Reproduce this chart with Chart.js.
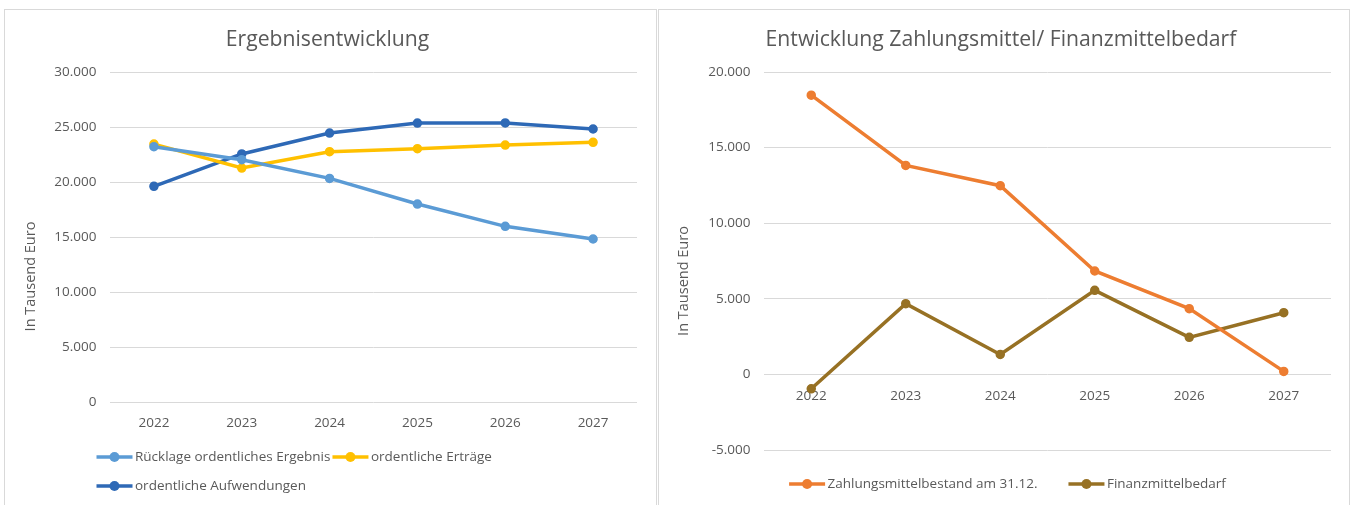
<!DOCTYPE html>
<html>
<head>
<meta charset="utf-8">
<script src="https://cdn.jsdelivr.net/npm/chart.js@4"></script>
<style>
  body { margin: 0; background: #fff; overflow: hidden; }
  .box { position: absolute; top: 9px; height: 520px; border: 1px solid #d9d9d9; background: #fff; }
  #box1 { left: 4px; width: 651px; }
  #box2 { left: 658px; width: 690px; }
  canvas { display: block; }
</style>
</head>
<body>
<div class="box" id="box1"><canvas id="chart1" width="651" height="500"></canvas></div>
<div class="box" id="box2"><canvas id="chart2" width="690" height="500"></canvas></div>

<script>
const years = ['2022', '2023', '2024', '2025', '2026', '2027'];

// Ergebnisentwicklung (Tsd. Euro)
const ruecklage    = [23210, 22030, 20330, 18000, 15970, 14820];
const ertraege     = [23450, 21270, 22760, 23030, 23360, 23610];
const aufwendungen = [19610, 22550, 24450, 25360, 25370, 24820];

// Zahlungsmittel / Finanzmittelbedarf (Tsd. Euro)
const zahlungsmittel = [18470, 13820, 12480, 6840, 4350, 200];
const finanzbedarf   = [-950, 4680, 1320, 5560, 2450, 4080];

const grey = '#595959';
const font = 'Open Sans';

function fmt(v) {
  const s = String(Math.abs(v)).replace(/\B(?=(\d{3})+(?!\d))/g, '.');
  return (v < 0 ? '-' : '') + s;
}

// legend with a short line + marker in front of each label,
// plus the rotated unit label next to the value axis
const lineLegend = {
  id: 'lineLegend',
  afterDraw(chart, args, opts) {
    const ctx = chart.ctx;
    ctx.save();
    ctx.font = opts.size + 'px "' + font + '"';
    ctx.textBaseline = 'middle';
    opts.rows.forEach(row => {
      const widths = row.items.map(i => ctx.measureText(chart.data.datasets[i].label).width);
      let x = row.x;
      if (row.center !== undefined) {
        let total = 0;
        widths.forEach(w => total += 38.5 + w);
        total += row.gap * (widths.length - 1);
        x = row.center - total / 2;
      }
      row.items.forEach((i, k) => {
        const ds = chart.data.datasets[i];
        ctx.strokeStyle = ds.borderColor;
        ctx.lineWidth = 3.5;
        ctx.beginPath();
        ctx.moveTo(x, row.y);
        ctx.lineTo(x + 36, row.y);
        ctx.stroke();
        ctx.fillStyle = ds.borderColor;
        ctx.beginPath();
        ctx.arc(x + 18, row.y, 5, 0, Math.PI * 2);
        ctx.fill();
        ctx.fillStyle = grey;
        ctx.fillText(ds.label, x + 38.5, row.y + 0.5);
        x += 38.5 + widths[k] + row.gap;
      });
    });

    const t = opts.axisTitle;
    ctx.font = t.size + 'px "' + font + '"';
    ctx.fillStyle = grey;
    ctx.textAlign = 'center';
    ctx.translate(t.x, t.y);
    ctx.rotate(-Math.PI / 2);
    ctx.fillText(t.text, 0, 0);
    ctx.restore();
  }
};

function series(label, data, color) {
  return {
    label: label,
    data: data,
    borderColor: color,
    backgroundColor: color,
    borderWidth: 3.5,
    pointRadius: 4,
    pointBorderWidth: 1.5,
    pointBackgroundColor: color,
    pointBorderColor: color,
    tension: 0
  };
}

function yAxis(min, max, width) {
  return {
    min: min,
    max: max,
    ticks: {
      stepSize: 5000,
      padding: 13.5,
      color: grey,
      font: { family: font, size: 13.5 },
      callback: v => fmt(v)
    },
    grid: { color: '#d9d9d9', lineWidth: 1, drawTicks: false },
    border: { display: false },
    afterFit: s => { s.width = width; }
  };
}

function titleOpts(text) {
  return {
    display: true,
    text: text,
    color: grey,
    font: { family: font, size: 21.2, weight: 'normal', lineHeight: 1.2 },
    padding: { top: 17.3, bottom: 19.3 }
  };
}

// chart 1
new Chart(document.getElementById('chart1'), {
  type: 'line',
  data: {
    labels: years,
    datasets: [
      series('Rücklage ordentliches Ergebnis', ruecklage, '#5b9bd5'),
      series('ordentliche Erträge', ertraege, '#ffc000'),
      series('ordentliche Aufwendungen', aufwendungen, '#2e69b6')
    ]
  },
  options: {
    responsive: false,
    animation: false,
    layout: { padding: { left: 13, right: 19, top: 0, bottom: 68 } },
    plugins: {
      legend: { display: false },
      tooltip: { enabled: false },
      title: titleOpts('Ergebnisentwicklung'),
      lineLegend: {
        size: 13.5,
        axisTitle: { text: 'In Tausend Euro', x: 25.5, y: 266.5, size: 14.5 },
        rows: [
          { x: 91.5, y: 447, gap: 2, items: [0, 1] },
          { x: 91.5, y: 476, gap: 2, items: [2] }
        ]
      }
    },
    scales: {
      x: {
        offset: true,
        grid: { display: false, drawTicks: false },
        border: { display: false },
        ticks: { padding: 13, color: grey, font: { family: font, size: 13.5 } },
        afterFit: s => { s.height = 40; }
      },
      y: yAxis(0, 30000, 92)
    }
  },
  plugins: [lineLegend]
});

// chart 2
new Chart(document.getElementById('chart2'), {
  type: 'line',
  data: {
    labels: years,
    datasets: [
      series('Zahlungsmittelbestand am 31.12.', zahlungsmittel, '#ed7d31'),
      series('Finanzmittelbedarf', finanzbedarf, '#977124')
    ]
  },
  options: {
    responsive: false,
    animation: false,
    layout: { padding: { left: 12, right: 18, top: 0, bottom: 60 } },
    plugins: {
      legend: { display: false },
      tooltip: { enabled: false },
      title: titleOpts('Entwicklung Zahlungsmittel/ Finanzmittelbedarf'),
      lineLegend: {
        size: 13.5,
        axisTitle: { text: 'In Tausend Euro', x: 24.5, y: 271, size: 14.5 },
        rows: [
          { center: 348.5, y: 474, gap: 31, items: [0, 1] }
        ]
      }
    },
    scales: {
      x: {
        position: { y: 0 },
        offset: true,
        grid: { display: false, drawTicks: false },
        border: { display: false },
        ticks: { padding: 14, color: grey, font: { family: font, size: 13.5 } }
      },
      y: yAxis(-5000, 20000, 93)
    }
  },
  plugins: [lineLegend]
});
</script>
</body>
</html>
